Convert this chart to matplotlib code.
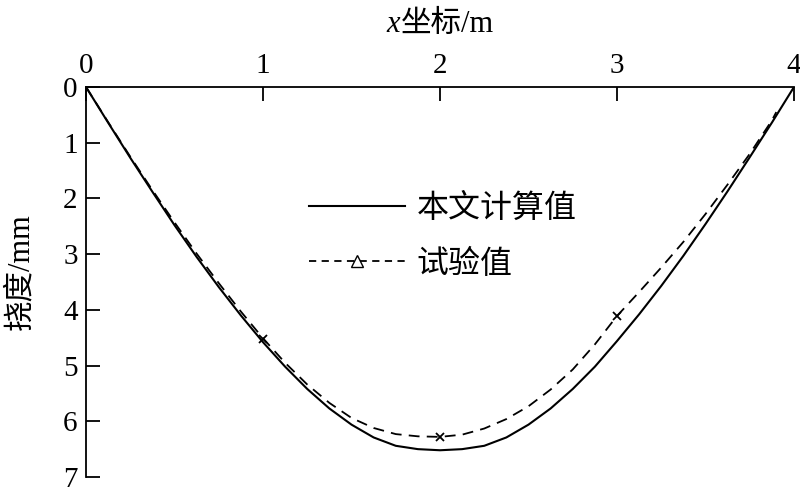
import numpy as np
import matplotlib.pyplot as plt
from matplotlib.lines import Line2D

plt.rcParams['font.family'] = ['Liberation Serif', 'Noto Sans CJK SC']

# 本文计算值 (computed)
x_calc = [0, 0.125, 0.25, 0.375, 0.5, 0.625, 0.75, 0.875, 1.0, 1.125, 1.25, 1.375, 1.5, 1.625, 1.75, 1.875,
          2.0, 2.125, 2.25, 2.375, 2.5, 2.625, 2.75, 2.875, 3.0, 3.125, 3.25, 3.375, 3.5, 3.625, 3.75, 3.875, 4.0]
y_calc = [0, 0.64, 1.27, 1.88, 2.48, 3.05, 3.59, 4.1, 4.58, 5.02, 5.42, 5.77, 6.06, 6.29, 6.44, 6.5,
          6.52, 6.5, 6.44, 6.29, 6.06, 5.77, 5.42, 5.02, 4.56, 4.08, 3.57, 3.03, 2.46, 1.87, 1.26, 0.64, 0]

# 试验值 (test), smoothed curve
x_test = [0, 0.125, 0.25, 0.375, 0.5, 0.625, 0.75, 0.875, 1.0, 1.125, 1.25, 1.375, 1.5, 1.625, 1.75, 1.875,
          2.0, 2.125, 2.25, 2.375, 2.5, 2.625, 2.75, 2.875, 3.0, 3.125, 3.25, 3.375, 3.5, 3.625, 3.75, 3.875, 3.9]
y_test = [0, 0.63, 1.25, 1.85, 2.43, 2.99, 3.52, 4.03, 4.51, 4.95, 5.34, 5.67, 5.94, 6.12, 6.23, 6.27,
          6.28, 6.24, 6.13, 5.96, 5.73, 5.43, 5.07, 4.62, 4.11, 3.68, 3.24, 2.78, 2.28, 1.75, 1.2, 0.6, 0.45]
# measured points
x_pts = [1, 2, 3]
y_pts = [4.53, 6.28, 4.11]

fig = plt.figure(figsize=(8, 5), dpi=100)
ax = fig.add_axes([0.1075, 0.046, 0.885, 0.78])

ax.plot(x_calc, y_calc, color='black', lw=1.5)
ax.plot(x_test, y_test, color='black', lw=1.3, ls=(0, (6, 4)))
ax.plot(x_pts, y_pts, ls='none', marker='x', ms=6, mew=1.3, color='black')

ax.set_xlim(0, 4)
ax.set_ylim(7, 0)
ax.xaxis.tick_top()
ax.set_xticks([0, 1, 2, 3, 4])
ax.set_yticks(range(8))
ax.spines['right'].set_visible(False)
ax.spines['bottom'].set_visible(False)
for s in ['top', 'left']:
    ax.spines[s].set_linewidth(1.3)
ax.tick_params(direction='in', length=10, width=1.3, labelsize=21, pad=6)

# x label: italic x + 坐标/m
fig.text(400 / 800, 1 - 24 / 500, 'x', fontsize=22, style='italic', ha='right', va='center')
fig.text(401 / 800, 1 - 24 / 500, '坐标/m', fontsize=22, ha='left', va='center')

ax.set_ylabel('挠度/mm', fontsize=22)
ax.yaxis.set_label_coords(-0.072, 0.526)

handles = [Line2D([], [], color='black', lw=1.5),
           Line2D([], [], color='black', lw=1.3, ls=(0, (4, 3)), marker='^',
                  mfc='white', mec='black', ms=8)]
ax.legend(handles, ['本文计算值', '试验值'], loc='upper left',
          bbox_to_anchor=(0.275, 0.8), frameon=False, fontsize=23,
          handlelength=3.0, labelspacing=0.8, handletextpad=0.35)

fig.savefig('out.png', dpi=100)
